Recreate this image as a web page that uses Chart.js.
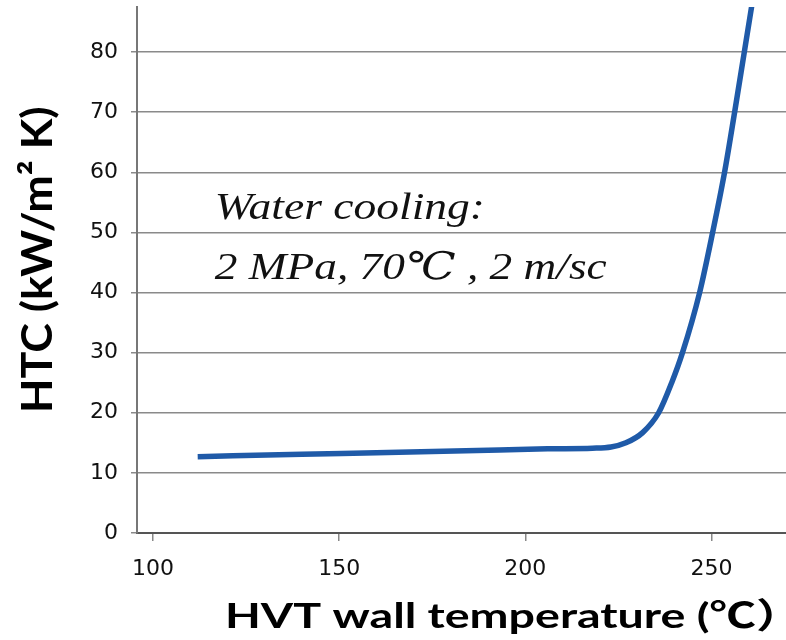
<!DOCTYPE html>
<html>
<head>
<meta charset="utf-8">
<script src="https://cdn.jsdelivr.net/npm/chart.js@4.4.1/dist/chart.umd.min.js"></script>
<style>
  html, body { margin: 0; padding: 0; background: #fff; }
  #wrap { width: 786px; height: 640px; position: relative; }
</style>
</head>
<body>
<div id="wrap"><canvas id="grafico"></canvas></div>
<script>
// HVT wall temperature (°C) vs heat transfer coefficient (kW/m2 K)
const temperaturas = [112, 140, 160, 193, 206, 218, 223, 227, 231.5, 235.8, 239.3, 242.2, 246.8, 250.3, 253.5, 256.2, 258.8, 261.4];
const htc = [12.7, 13.1, 13.35, 13.8, 14.0, 14.1, 14.3, 15.0, 16.7, 20, 25, 30, 40, 50, 60, 70, 80, 90];

const ticksX = [100, 150, 200, 250];
const ticksY = [0, 10, 20, 30, 40, 50, 60, 70, 80];

const tituloX = "HVT wall temperature (\u2103\uFF09";
const tituloY = "HTC (kW/m\u00B2 K)";
const anotacao = ["Water cooling:", "2 MPa, 70\u2103 , 2 m/sc"];

// posição da anotação em coordenadas de dados
const anotX = 116.6;
const anotY = [52.2, 42.2];

const pontos = temperaturas.map((t, i) => ({ x: t, y: htc[i] }));

// desenha texto esticado na horizontal até uma largura alvo (a figura original é esticada)
function textoEsticado(ctx, texto, x, y, largura, rotacao) {
    const m = ctx.measureText(texto);
    const sx = largura / m.actualBoundingBoxRight;
    ctx.save();
    ctx.translate(x, y);
    if (rotacao) ctx.rotate(rotacao);
    ctx.scale(sx, 1);
    ctx.fillText(texto, 0, 0);
    ctx.restore();
}

const pluginTextos = {
    id: "textos",
    afterDraw(chart) {
        const { ctx, scales } = chart;
        ctx.save();
        ctx.textAlign = "left";
        ctx.textBaseline = "alphabetic";
        ctx.fillStyle = "#000";

        // títulos dos eixos
        ctx.font = "bold 35px Lato, 'Noto Sans CJK JP', sans-serif";
        textoEsticado(ctx, tituloX, 225, 628, 547, 0);
        ctx.font = "bold 42px Lato, 'Noto Sans CJK JP', sans-serif";
        textoEsticado(ctx, tituloY, 52, 413, 305, -Math.PI / 2);

        // anotação
        ctx.font = "italic 38px 'Liberation Serif', 'DejaVu Serif', serif";
        ctx.fillStyle = "#111";
        const x = scales.x.getPixelForValue(anotX);
        textoEsticado(ctx, anotacao[0], x, scales.y.getPixelForValue(anotY[0]), 267, 0);
        textoEsticado(ctx, anotacao[1], x, scales.y.getPixelForValue(anotY[1]), 392, 0);
        ctx.restore();
    }
};

const fonteTicks = { family: "'DejaVu Sans', Verdana, sans-serif", size: 22 };

new Chart(document.getElementById("grafico").getContext("2d"), {
    type: "scatter",
    data: {
        datasets: [{
            label: "HTC",
            data: pontos,
            showLine: true,
            borderColor: "#1f5aa8",
            backgroundColor: "#1f5aa8",
            borderWidth: 5.5,
            pointRadius: 0,
            cubicInterpolationMode: "monotone",
        }]
    },
    plugins: [pluginTextos],
    options: {
        responsive: true,
        maintainAspectRatio: false,
        animation: false,
        layout: { padding: { top: 7, left: 0, right: 0, bottom: 0 } },
        plugins: {
            legend: { display: false },
            tooltip: { enabled: false },
        },
        scales: {
            x: {
                type: "linear",
                min: 95.7,
                max: 270,
                afterBuildTicks: (scale) => {
                    scale.ticks = ticksX.map(v => ({ value: v }));
                },
                afterFit: (scale) => {
                    scale.height = 107;
                    scale.paddingLeft = 0;
                    scale.paddingRight = 0;
                },
                border: { color: "#555", width: 2 },
                grid: {
                    drawOnChartArea: false,
                    drawTicks: true,
                    tickLength: 8,
                    color: "#888",
                    lineWidth: 1.5,
                },
                ticks: {
                    font: fonteTicks,
                    color: "#111",
                    padding: 15,
                    maxRotation: 0,
                },
                title: { display: false },
            },
            y: {
                min: 0,
                max: 87.5,
                afterBuildTicks: (scale) => {
                    scale.ticks = ticksY.map(v => ({ value: v }));
                },
                afterFit: (scale) => {
                    scale.width = 137;
                    scale.paddingTop = 0;
                    scale.paddingBottom = 0;
                },
                border: { color: "#777", width: 2 },
                grid: {
                    color: "#8a8a8a",
                    lineWidth: 1.5,
                    tickLength: 6,
                },
                ticks: {
                    font: fonteTicks,
                    color: "#111",
                    padding: 13,
                },
                title: { display: false },
            },
        },
    },
});
</script>
</body>
</html>
